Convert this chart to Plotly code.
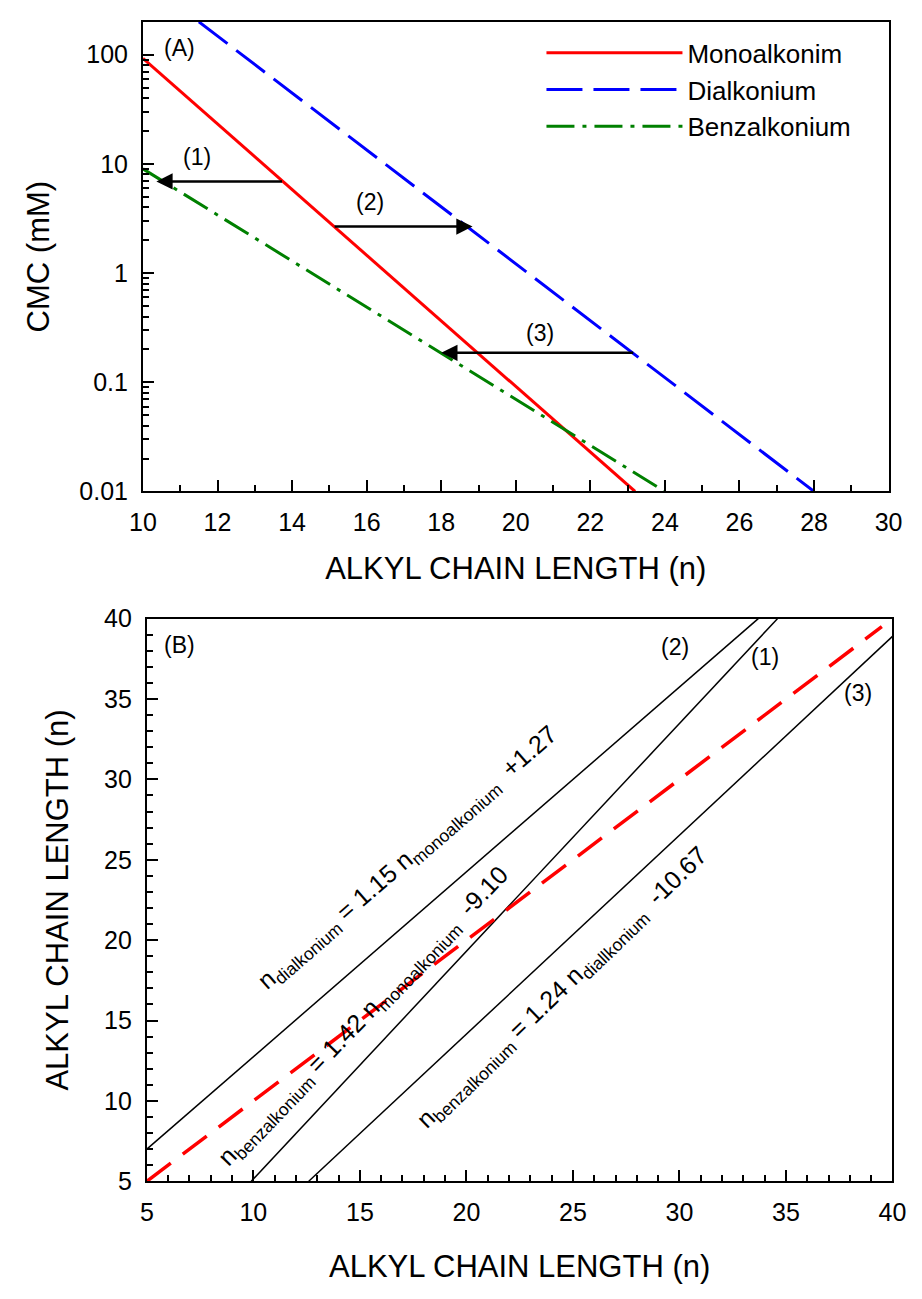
import numpy as np
import plotly.graph_objects as go

FONT = "Liberation Sans, Arial, Helvetica, sans-serif"
W, H = 922, 1299

# ---------------- Panel A data (CMC vs alkyl chain length) ----------------
mono_n = [10.0, 23.2]
mono_cmc = [92.6, 0.01]
dial_n = [11.5, 28.0]
dial_cmc = [200.0, 0.01]
benz_n = [10.0, 24.0]
benz_cmc = [9.0, 0.01]

arrow_labels = ["(1)", "(2)", "(3)"]
arrow_from_n = [13.77, 15.1, 23.19]
arrow_to_n = [10.36, 18.84, 18.0]
arrow_cmc = [6.9, 2.67, 0.186]
arrow_label_n = [11.46, 16.09, 20.64]
arrow_label_cmc = [11.6, 4.47, 0.28]

ya_tickvals = [0.01, 0.1, 1, 10, 100]
ya_ticktext = ["0.01", "0.1", "1", "10", "100"]

# ---------------- Panel B data (chain length correlations) ----------------
line2_x = [5.0, 33.7]
line2_y = [7.0, 40.0]
line1_x = [9.9, 34.6]
line1_y = [5.0, 40.0]
line3_x = [12.6, 40.0]
line3_y = [5.0, 38.9]
ident_x = [5.0, 39.5]
ident_y = [5.0, 39.5]

eq_texts = [
    "n<sub>dialkonium</sub> = 1.15 n<sub>monoalkonium</sub>  +1.27",
    "n<sub>benzalkonium</sub> = 1.42 n<sub>monoalkonium</sub>  -9.10",
    "n<sub>benzalkonium</sub> = 1.24 n<sub>diallkonium</sub>  -10.67",
]
eq_x = [17.3, 15.2, 24.55]
eq_y = [25.1, 15.2, 17.0]
eq_angle = [-41, -46, -44]

b_labels = ["(2)", "(1)", "(3)"]
b_label_x = [29.77, 34.0, 38.4]
b_label_y = [38.23, 37.6, 35.4]

fig = go.Figure()

fig.add_trace(go.Scatter(x=mono_n, y=mono_cmc, mode="lines", name="Monoalkonim",
                         line=dict(color="#ff0000", width=3), xaxis="x", yaxis="y"))
fig.add_trace(go.Scatter(x=dial_n, y=dial_cmc, mode="lines", name="Dialkonium",
                         line=dict(color="#0000ff", width=3, dash="36px,11px"), xaxis="x", yaxis="y"))
fig.add_trace(go.Scatter(x=benz_n, y=benz_cmc, mode="lines", name="Benzalkonium",
                         line=dict(color="#008000", width=3, dash="28px,8px,4px,8px"), xaxis="x", yaxis="y"))

for xs, ys in [(line2_x, line2_y), (line1_x, line1_y), (line3_x, line3_y)]:
    fig.add_trace(go.Scatter(x=xs, y=ys, mode="lines", showlegend=False,
                             line=dict(color="black", width=1.5), xaxis="x2", yaxis="y2"))
fig.add_trace(go.Scatter(x=ident_x, y=ident_y, mode="lines", showlegend=False,
                         line=dict(color="#ff0000", width=3.5, dash="30px,15px"), xaxis="x2", yaxis="y2"))

ann = []
for i in range(3):
    ly = float(np.log10(arrow_cmc[i]))
    ann.append(dict(x=arrow_to_n[i], y=ly, ax=arrow_from_n[i], ay=ly,
                    xref="x", yref="y", axref="x", ayref="y", text="",
                    showarrow=True, arrowhead=2, arrowsize=1.3, arrowwidth=2.5,
                    arrowcolor="black"))
    ann.append(dict(x=arrow_label_n[i], y=float(np.log10(arrow_label_cmc[i])),
                    xref="x", yref="y", text=arrow_labels[i], showarrow=False,
                    font=dict(size=23, color="black", family=FONT)))
ann.append(dict(x=10.99, y=2.063, xref="x", yref="y", text="(A)", showarrow=False,
                font=dict(size=23, color="black", family=FONT)))
ann.append(dict(x=6.55, y=38.35, xref="x2", yref="y2", text="(B)", showarrow=False,
                font=dict(size=23, color="black", family=FONT)))
for i in range(3):
    ann.append(dict(x=eq_x[i], y=eq_y[i], xref="x2", yref="y2", text=eq_texts[i],
                    textangle=eq_angle[i], showarrow=False,
                    font=dict(size=25, color="black", family=FONT)))
    ann.append(dict(x=b_label_x[i], y=b_label_y[i], xref="x2", yref="y2", text=b_labels[i],
                    showarrow=False, font=dict(size=23, color="black", family=FONT)))

minor_log = [m * 10.0 ** e for e in range(-2, 3) for m in range(2, 10) if m * 10.0 ** e <= 200]

axis_common = dict(showline=True, linecolor="black", linewidth=2, mirror=True,
                   ticks="inside", ticklen=11, tickwidth=1.5, tickcolor="black",
                   showgrid=False, zeroline=False,
                   tickfont=dict(size=25, color="black", family=FONT),
                   ticklabelstandoff=8)

fig.update_layout(
    width=W, height=H,
    margin=dict(l=0, r=0, t=0, b=0),
    paper_bgcolor="white", plot_bgcolor="white",
    font=dict(family=FONT, color="black"),
    showlegend=True,
    legend=dict(x=0.59, y=0.988, xanchor="left", yanchor="top",
                bgcolor="rgba(0,0,0,0)", font=dict(size=26, color="black", family=FONT),
                itemwidth=136, tracegroupgap=0),
    xaxis=dict(domain=[133 / W, 902 / W], anchor="y", range=[10, 30], dtick=2, tick0=10,
               minor=dict(dtick=1, ticks="inside", ticklen=6, tickwidth=1.5, tickcolor="black"),
               title=dict(text="ALKYL CHAIN LENGTH (n)", font=dict(size=31, family=FONT), standoff=22),
               **axis_common),
    yaxis=dict(domain=[1 - 488 / H, 1 - 8 / H], anchor="x", type="log",
               range=[-2, float(np.log10(200))], tickmode="array",
               tickvals=ya_tickvals, ticktext=ya_ticktext,
               minor=dict(tickmode="array", tickvals=minor_log, ticks="inside", ticklen=6,
                          tickwidth=1.5, tickcolor="black"),
               title=dict(text="CMC (mM)", font=dict(size=31, family=FONT), standoff=20),
               **axis_common),
    xaxis2=dict(domain=[137 / W, 906 / W], anchor="y2", range=[5, 40], dtick=5, tick0=5,
                minor=dict(dtick=1, ticks="inside", ticklen=6, tickwidth=1.5, tickcolor="black"),
                title=dict(text="ALKYL CHAIN LENGTH (n)", font=dict(size=31, family=FONT), standoff=30),
                **axis_common),
    yaxis2=dict(domain=[1 - 1193 / H, 1 - 618 / H], anchor="x2", range=[5, 40], dtick=5, tick0=5,
                minor=dict(dtick=1, ticks="inside", ticklen=6, tickwidth=1.5, tickcolor="black"),
                title=dict(text="ALKYL CHAIN LENGTH (n)", font=dict(size=31, family=FONT), standoff=26),
                **axis_common),
    annotations=ann,
)

fig.write_html("out.html")
